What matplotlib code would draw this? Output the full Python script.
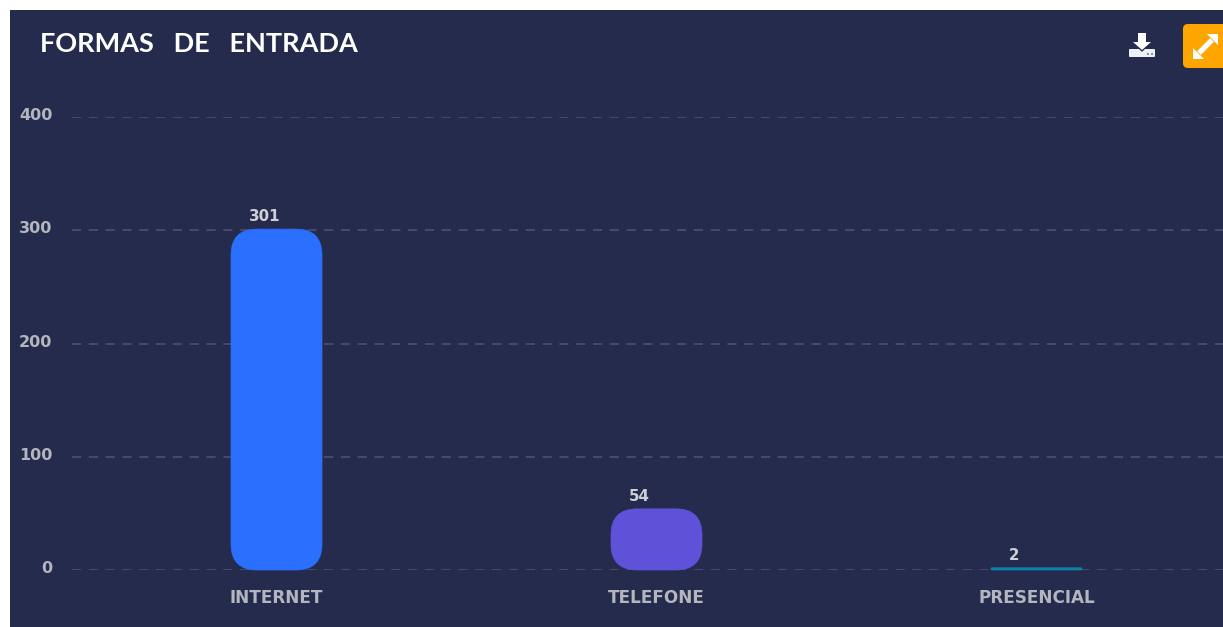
import matplotlib
matplotlib.use("Agg")
import matplotlib.pyplot as plt
from matplotlib.patches import FancyBboxPatch, Rectangle, Polygon
from matplotlib.transforms import ScaledTranslation

categorias = ["INTERNET", "TELEFONE", "PRESENCIAL"]
valores = [301, 54, 2]
cores = ["#2b6fff", "#5f52d8", "#0e7fa6"]
y_ticks = [0, 100, 200, 300, 400]
titulo = "FORMAS   DE   ENTRADA"

W, H = 1223, 627
BG = "#252b4d"
TXT = "#b4b5bd"

fig = plt.figure(figsize=(W / 100, H / 100), dpi=100, facecolor="white")

# fundo do painel e icones em coordenadas de pixel
px = fig.add_axes([0, 0, 1, 1])
px.set_xlim(0, W)
px.set_ylim(H, 0)
px.axis("off")
px.add_patch(Rectangle((10, 10), W - 10, H - 10, fc=BG, ec="none"))

# download
px.add_patch(FancyBboxPatch((1129, 49), 26, 8, boxstyle="round,pad=0,rounding_size=1", fc="#eef0f8", ec="none"))
px.add_patch(Polygon([(1133, 42), (1151, 42), (1142, 51)], fc=BG, ec=BG, lw=1))
px.add_patch(Rectangle((1138, 33), 8, 10, fc="white", ec="none"))
px.add_patch(Polygon([(1133, 42), (1151, 42), (1142, 50)], fc="white", ec="none"))
px.add_patch(Rectangle((1147, 53), 2, 2, fc="#8a90a8", ec="none"))
px.add_patch(Rectangle((1151, 53), 2, 2, fc="#8a90a8", ec="none"))

# expandir
px.add_patch(FancyBboxPatch((1183, 24), 60, 44, boxstyle="round,pad=0,rounding_size=5", fc="#ffa500", ec="none"))
px.plot([1199, 1212], [53, 40], color="white", lw=3.8, solid_capstyle="butt")
px.add_patch(Polygon([(1193, 59), (1193, 48), (1204, 59)], fc="white", ec="none"))
px.add_patch(Polygon([(1218, 34), (1207, 34), (1218, 45)], fc="white", ec="none"))

px.text(40, 52, titulo, color="white", fontsize=19.5, family="Lato", fontweight="bold", va="baseline", ha="left")

# grafico
left, right, top, bottom = 72, 1223, 117, 570
ax = fig.add_axes([left / W, 1 - bottom / H, (right - left) / W, (bottom - top) / H])
ax.patch.set_alpha(0)
ax.set_ylim(0, 400)
ax.set_xlim((left - 276.5) / 380, (right - 276.5) / 380)
for s in ax.spines.values():
    s.set_visible(False)
ax.set_yticks(y_ticks)
ax.set_xticks(range(len(categorias)))
ax.set_xticklabels(categorias)
ax.tick_params(length=0)
ax.tick_params(axis="y", pad=14)
ax.tick_params(axis="x", pad=14)
sobe = ScaledTranslation(0, 2 / 72, fig.dpi_scale_trans)
for t in ax.get_yticklabels():
    t.set(color=TXT, fontsize=11.5, family="DejaVu Sans", fontweight="bold")
    t.set_transform(t.get_transform() + sobe)
for t in ax.get_xticklabels():
    t.set(color=TXT, fontsize=12.2, family="DejaVu Sans", fontweight="bold")
ax.grid(axis="y", color="#4f5473", lw=1.1, dashes=(6, 5))
ax.set_axisbelow(True)
ax.xaxis.grid(False)

largura = 91 / 380
escala_y = (400 / (bottom - top)) / (1 / 380)  # unidades y por unidade x
raio = 26 / 380
for i, (v, c) in enumerate(zip(valores, cores)):
    r = min(raio, v * 0.45 / escala_y)
    ax.add_patch(FancyBboxPatch((i - largura / 2, 0), largura, v, boxstyle=f"round,pad=0,rounding_size={r}",
                                mutation_aspect=escala_y, fc=c, ec=c, lw=0.5, clip_on=False, zorder=3))
    ax.annotate(str(v), (i - largura / 2 + 18 / 380, v), xytext=(0, 3.5), textcoords="offset points", ha="left", va="bottom",
                color="#cfd0d6", fontsize=10.8, family="DejaVu Sans", fontweight="bold")

fig.savefig("out.png", dpi=100, facecolor="white")
